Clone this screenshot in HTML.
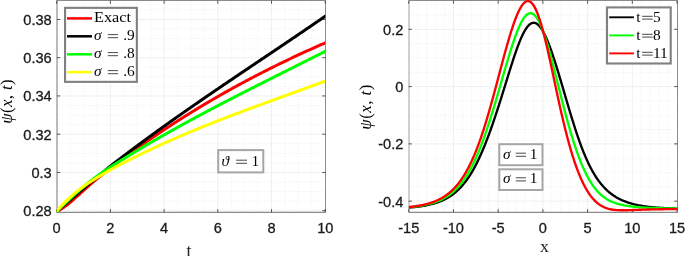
<!DOCTYPE html>
<html><head><meta charset="utf-8"><style>
html,body{margin:0;padding:0;background:#fff;width:685px;height:256px;overflow:hidden}
svg{display:block;will-change:transform}
</style></head><body><svg width="685" height="256" viewBox="0 0 685 256"><defs><clipPath id="cl"><rect x="56.68" y="0" width="268.62" height="212.3"/></clipPath><clipPath id="cr"><rect x="408.7" y="0" width="268.9" height="212.3"/></clipPath></defs><path d="M70.11 0V212.3M83.54 0V212.3M96.97 0V212.3M123.82 0V212.3M137.25 0V212.3M150.68 0V212.3M177.54 0V212.3M190.97 0V212.3M204.39 0V212.3M231.25 0V212.3M244.68 0V212.3M258.11 0V212.3M284.96 0V212.3M298.39 0V212.3M311.82 0V212.3M56.68 201.13H325.3M56.68 191.56H325.3M56.68 182H325.3M56.68 162.88H325.3M56.68 153.31H325.3M56.68 143.75H325.3M56.68 124.63H325.3M56.68 115.06H325.3M56.68 105.5H325.3M56.68 86.38H325.3M56.68 76.81H325.3M56.68 67.25H325.3M56.68 48.13H325.3M56.68 38.56H325.3M56.68 29H325.3M56.68 9.88H325.3" stroke="#ececec" stroke-width="1" fill="none" stroke-dasharray="0.9 1.7"/><path d="M110.39 0V212.3M164.11 0V212.3M217.82 0V212.3M271.54 0V212.3M56.68 210.69H325.3M56.68 172.44H325.3M56.68 134.19H325.3M56.68 95.94H325.3M56.68 57.69H325.3M56.68 19.44H325.3" stroke="#f0f0f0" stroke-width="1" fill="none"/><path d="M57 0.5H325.5" stroke="#8a8a8a" stroke-width="1"/><path d="M57 212.4H325.5" stroke="#8c8c8c" stroke-width="1.1"/><path d="M57 0.5V212.4" stroke="#777777" stroke-width="1"/><path d="M325.5 0.5V212.4" stroke="#8a8a8a" stroke-width="1"/><path d="M56.68 212.4V209.1M56.68 0.5V3.8M110.39 212.4V209.1M110.39 0.5V3.8M164.11 212.4V209.1M164.11 0.5V3.8M217.82 212.4V209.1M217.82 0.5V3.8M271.54 212.4V209.1M271.54 0.5V3.8M325.25 212.4V209.1M325.25 0.5V3.8M57 210.69H60.3M325.5 210.69H322.2M57 172.44H60.3M325.5 172.44H322.2M57 134.19H60.3M325.5 134.19H322.2M57 95.94H60.3M325.5 95.94H322.2M57 57.69H60.3M325.5 57.69H322.2M57 19.44H60.3M325.5 19.44H322.2" stroke="#3a3a3a" stroke-width="0.85" fill="none"/><g clip-path="url(#cl)" fill="none" stroke-width="3.0" stroke-linejoin="round" stroke-linecap="round"><path d="M56.68 211.32 L57.22 211.08 L57.76 210.83 L58.29 210.57 L58.83 210.3 L59.37 210.02 L59.91 209.72 L60.45 209.42 L60.99 209.1 L61.52 208.78 L62.06 208.45 L62.6 208.1 L63.14 207.75 L63.68 207.39 L64.22 207.03 L64.75 206.65 L65.29 206.27 L65.83 205.88 L66.37 205.49 L66.91 205.09 L67.44 204.68 L67.98 204.24 L68.52 203.8 L69.06 203.36 L69.6 202.9 L70.14 202.45 L70.67 201.99 L71.21 201.53 L71.75 201.06 L72.29 200.59 L72.83 200.12 L73.36 199.65 L73.9 199.17 L74.44 198.69 L74.98 198.21 L75.52 197.72 L76.06 197.24 L76.59 196.75 L77.13 196.26 L77.67 195.77 L78.21 195.28 L78.75 194.79 L79.29 194.3 L79.82 193.81 L80.36 193.32 L80.9 192.82 L81.44 192.33 L81.98 191.84 L82.51 191.35 L83.05 190.86 L83.59 190.37 L84.13 189.88 L84.67 189.4 L85.21 188.91 L85.74 188.43 L86.28 187.95 L86.82 187.47 L87.36 187 L87.9 186.52 L88.43 186.05 L88.97 185.58 L89.51 185.11 L90.05 184.63 L90.59 184.16 L91.13 183.7 L91.66 183.24 L92.2 182.78 L92.74 182.32 L93.28 181.87 L93.82 181.42 L94.36 180.97 L94.89 180.53 L95.43 180.09 L95.97 179.65 L96.51 179.21 L97.05 178.77 L97.58 178.33 L98.12 177.89 L98.66 177.45 L99.2 177.01 L99.74 176.58 L100.28 176.14 L100.81 175.71 L101.35 175.27 L101.89 174.84 L102.43 174.4 L102.97 173.97 L103.5 173.54 L104.04 173.11 L104.58 172.68 L105.12 172.25 L105.66 171.82 L106.2 171.39 L106.73 170.96 L107.27 170.53 L107.81 170.1 L108.35 169.68 L108.89 169.25 L109.43 168.82 L109.96 168.4 L110.5 167.98 L111.04 167.57 L111.58 167.15 L112.12 166.74 L112.65 166.33 L113.19 165.93 L113.73 165.52 L114.27 165.11 L114.81 164.7 L115.35 164.29 L115.88 163.89 L116.42 163.48 L116.96 163.08 L117.5 162.67 L118.04 162.27 L118.57 161.87 L119.11 161.46 L119.65 161.06 L120.19 160.66 L120.73 160.26 L121.27 159.86 L121.8 159.46 L122.34 159.06 L122.88 158.66 L123.42 158.26 L123.96 157.86 L124.5 157.47 L125.03 157.07 L125.57 156.67 L126.11 156.28 L126.65 155.88 L127.19 155.49 L127.72 155.1 L128.26 154.7 L128.8 154.31 L129.34 153.92 L129.88 153.53 L130.42 153.14 L130.95 152.75 L131.49 152.36 L132.03 151.97 L132.57 151.58 L133.11 151.19 L133.64 150.8 L134.18 150.42 L134.72 150.03 L135.26 149.64 L135.8 149.26 L136.34 148.87 L136.87 148.49 L137.41 148.11 L137.95 147.72 L138.49 147.34 L139.03 146.96 L139.57 146.58 L140.1 146.2 L140.64 145.82 L141.18 145.44 L141.72 145.06 L142.26 144.68 L142.79 144.3 L143.33 143.92 L143.87 143.55 L144.41 143.17 L144.95 142.79 L145.49 142.42 L146.02 142.04 L146.56 141.67 L147.1 141.3 L147.64 140.92 L148.18 140.55 L148.72 140.18 L149.25 139.81 L149.79 139.43 L150.33 139.06 L150.87 138.69 L151.41 138.32 L151.94 137.95 L152.48 137.59 L153.02 137.22 L153.56 136.85 L154.1 136.48 L154.64 136.12 L155.17 135.75 L155.71 135.39 L156.25 135.02 L156.79 134.66 L157.33 134.29 L157.86 133.93 L158.4 133.57 L158.94 133.21 L159.48 132.84 L160.02 132.48 L160.56 132.12 L161.09 131.76 L161.63 131.4 L162.17 131.04 L162.71 130.69 L163.25 130.33 L163.79 129.97 L164.32 129.61 L164.86 129.26 L165.4 128.9 L165.94 128.55 L166.48 128.19 L167.01 127.84 L167.55 127.48 L168.09 127.13 L168.63 126.78 L169.17 126.42 L169.71 126.07 L170.24 125.72 L170.78 125.37 L171.32 125.02 L171.86 124.67 L172.4 124.32 L172.93 123.97 L173.47 123.62 L174.01 123.27 L174.55 122.93 L175.09 122.58 L175.63 122.23 L176.16 121.89 L176.7 121.54 L177.24 121.2 L177.78 120.85 L178.32 120.51 L178.86 120.17 L179.39 119.82 L179.93 119.48 L180.47 119.14 L181.01 118.8 L181.55 118.46 L182.08 118.12 L182.62 117.78 L183.16 117.44 L183.7 117.1 L184.24 116.76 L184.78 116.42 L185.31 116.09 L185.85 115.75 L186.39 115.41 L186.93 115.08 L187.47 114.74 L188 114.41 L188.54 114.07 L189.08 113.74 L189.62 113.4 L190.16 113.07 L190.7 112.74 L191.23 112.41 L191.77 112.08 L192.31 111.74 L192.85 111.41 L193.39 111.08 L193.93 110.75 L194.46 110.42 L195 110.1 L195.54 109.77 L196.08 109.44 L196.62 109.11 L197.15 108.79 L197.69 108.46 L198.23 108.13 L198.77 107.81 L199.31 107.48 L199.85 107.16 L200.38 106.83 L200.92 106.51 L201.46 106.19 L202 105.87 L202.54 105.54 L203.07 105.22 L203.61 104.9 L204.15 104.58 L204.69 104.26 L205.23 103.94 L205.77 103.62 L206.3 103.3 L206.84 102.98 L207.38 102.66 L207.92 102.35 L208.46 102.03 L209 101.71 L209.53 101.4 L210.07 101.08 L210.61 100.77 L211.15 100.45 L211.69 100.14 L212.22 99.82 L212.76 99.51 L213.3 99.2 L213.84 98.88 L214.38 98.57 L214.92 98.26 L215.45 97.95 L215.99 97.64 L216.53 97.33 L217.07 97.02 L217.61 96.71 L218.14 96.4 L218.68 96.09 L219.22 95.78 L219.76 95.48 L220.3 95.17 L220.84 94.86 L221.37 94.56 L221.91 94.25 L222.45 93.94 L222.99 93.64 L223.53 93.34 L224.07 93.03 L224.6 92.73 L225.14 92.42 L225.68 92.12 L226.22 91.82 L226.76 91.52 L227.29 91.22 L227.83 90.91 L228.37 90.61 L228.91 90.31 L229.45 90.01 L229.99 89.72 L230.52 89.42 L231.06 89.12 L231.6 88.82 L232.14 88.52 L232.68 88.22 L233.21 87.93 L233.75 87.63 L234.29 87.34 L234.83 87.04 L235.37 86.75 L235.91 86.45 L236.44 86.16 L236.98 85.86 L237.52 85.57 L238.06 85.28 L238.6 84.98 L239.14 84.69 L239.67 84.4 L240.21 84.11 L240.75 83.82 L241.29 83.53 L241.83 83.24 L242.36 82.95 L242.9 82.66 L243.44 82.37 L243.98 82.08 L244.52 81.79 L245.06 81.51 L245.59 81.22 L246.13 80.93 L246.67 80.65 L247.21 80.36 L247.75 80.07 L248.29 79.79 L248.82 79.5 L249.36 79.22 L249.9 78.94 L250.44 78.65 L250.98 78.37 L251.51 78.09 L252.05 77.8 L252.59 77.52 L253.13 77.24 L253.67 76.96 L254.21 76.68 L254.74 76.4 L255.28 76.12 L255.82 75.84 L256.36 75.56 L256.9 75.28 L257.43 75 L257.97 74.73 L258.51 74.45 L259.05 74.17 L259.59 73.89 L260.13 73.62 L260.66 73.34 L261.2 73.07 L261.74 72.79 L262.28 72.52 L262.82 72.24 L263.36 71.97 L263.89 71.69 L264.43 71.42 L264.97 71.15 L265.51 70.87 L266.05 70.6 L266.58 70.33 L267.12 70.06 L267.66 69.79 L268.2 69.52 L268.74 69.25 L269.28 68.98 L269.81 68.71 L270.35 68.44 L270.89 68.17 L271.43 67.9 L271.97 67.63 L272.5 67.37 L273.04 67.1 L273.58 66.83 L274.12 66.57 L274.66 66.3 L275.2 66.03 L275.73 65.77 L276.27 65.5 L276.81 65.24 L277.35 64.98 L277.89 64.71 L278.43 64.45 L278.96 64.18 L279.5 63.92 L280.04 63.66 L280.58 63.4 L281.12 63.14 L281.65 62.87 L282.19 62.61 L282.73 62.35 L283.27 62.09 L283.81 61.83 L284.35 61.57 L284.88 61.31 L285.42 61.05 L285.96 60.8 L286.5 60.54 L287.04 60.28 L287.57 60.02 L288.11 59.77 L288.65 59.51 L289.19 59.25 L289.73 59 L290.27 58.74 L290.8 58.49 L291.34 58.23 L291.88 57.98 L292.42 57.72 L292.96 57.47 L293.5 57.21 L294.03 56.96 L294.57 56.71 L295.11 56.46 L295.65 56.2 L296.19 55.95 L296.72 55.7 L297.26 55.45 L297.8 55.2 L298.34 54.95 L298.88 54.7 L299.42 54.45 L299.95 54.2 L300.49 53.95 L301.03 53.7 L301.57 53.45 L302.11 53.2 L302.64 52.96 L303.18 52.71 L303.72 52.46 L304.26 52.22 L304.8 51.97 L305.34 51.72 L305.87 51.48 L306.41 51.23 L306.95 50.99 L307.49 50.74 L308.03 50.5 L308.57 50.25 L309.1 50.01 L309.64 49.77 L310.18 49.52 L310.72 49.28 L311.26 49.04 L311.79 48.8 L312.33 48.55 L312.87 48.31 L313.41 48.07 L313.95 47.83 L314.49 47.59 L315.02 47.35 L315.56 47.11 L316.1 46.87 L316.64 46.63 L317.18 46.39 L317.71 46.15 L318.25 45.91 L318.79 45.68 L319.33 45.44 L319.87 45.2 L320.41 44.96 L320.94 44.73 L321.48 44.49 L322.02 44.25 L322.56 44.02 L323.1 43.78 L323.64 43.55 L324.17 43.31 L324.71 43.08 L325.25 42.84" stroke="#ff0000"/><path d="M56.68 211.33 L57.22 210.87 L57.76 210.4 L58.29 209.94 L58.83 209.48 L59.37 209.01 L59.91 208.55 L60.45 208.09 L60.99 207.63 L61.52 207.17 L62.06 206.72 L62.6 206.26 L63.14 205.8 L63.68 205.35 L64.22 204.89 L64.75 204.44 L65.29 203.99 L65.83 203.53 L66.37 203.08 L66.91 202.63 L67.44 202.18 L67.98 201.71 L68.52 201.24 L69.06 200.76 L69.6 200.29 L70.14 199.82 L70.67 199.35 L71.21 198.88 L71.75 198.41 L72.29 197.95 L72.83 197.48 L73.36 197.01 L73.9 196.55 L74.44 196.08 L74.98 195.62 L75.52 195.16 L76.06 194.69 L76.59 194.23 L77.13 193.77 L77.67 193.31 L78.21 192.85 L78.75 192.39 L79.29 191.94 L79.82 191.48 L80.36 191.02 L80.9 190.57 L81.44 190.11 L81.98 189.66 L82.51 189.21 L83.05 188.75 L83.59 188.3 L84.13 187.85 L84.67 187.4 L85.21 186.95 L85.74 186.5 L86.28 186.05 L86.82 185.61 L87.36 185.16 L87.9 184.71 L88.43 184.27 L88.97 183.82 L89.51 183.37 L90.05 182.91 L90.59 182.45 L91.13 182 L91.66 181.55 L92.2 181.09 L92.74 180.64 L93.28 180.19 L93.82 179.74 L94.36 179.29 L94.89 178.84 L95.43 178.39 L95.97 177.94 L96.51 177.49 L97.05 177.04 L97.58 176.6 L98.12 176.15 L98.66 175.71 L99.2 175.26 L99.74 174.82 L100.28 174.37 L100.81 173.93 L101.35 173.49 L101.89 173.05 L102.43 172.61 L102.97 172.16 L103.5 171.72 L104.04 171.28 L104.58 170.85 L105.12 170.41 L105.66 169.97 L106.2 169.53 L106.73 169.1 L107.27 168.66 L107.81 168.22 L108.35 167.79 L108.89 167.35 L109.43 166.92 L109.96 166.49 L110.5 166.06 L111.04 165.64 L111.58 165.22 L112.12 164.8 L112.65 164.38 L113.19 163.96 L113.73 163.55 L114.27 163.13 L114.81 162.71 L115.35 162.3 L115.88 161.88 L116.42 161.47 L116.96 161.05 L117.5 160.64 L118.04 160.23 L118.57 159.81 L119.11 159.4 L119.65 158.99 L120.19 158.58 L120.73 158.17 L121.27 157.75 L121.8 157.34 L122.34 156.93 L122.88 156.53 L123.42 156.12 L123.96 155.71 L124.5 155.3 L125.03 154.89 L125.57 154.49 L126.11 154.08 L126.65 153.67 L127.19 153.27 L127.72 152.86 L128.26 152.46 L128.8 152.05 L129.34 151.65 L129.88 151.24 L130.42 150.84 L130.95 150.44 L131.49 150.03 L132.03 149.63 L132.57 149.23 L133.11 148.83 L133.64 148.42 L134.18 148.02 L134.72 147.62 L135.26 147.22 L135.8 146.82 L136.34 146.42 L136.87 146.02 L137.41 145.62 L137.95 145.23 L138.49 144.83 L139.03 144.43 L139.57 144.03 L140.1 143.63 L140.64 143.24 L141.18 142.84 L141.72 142.44 L142.26 142.05 L142.79 141.65 L143.33 141.26 L143.87 140.86 L144.41 140.47 L144.95 140.07 L145.49 139.68 L146.02 139.28 L146.56 138.89 L147.1 138.49 L147.64 138.1 L148.18 137.71 L148.72 137.32 L149.25 136.92 L149.79 136.53 L150.33 136.14 L150.87 135.75 L151.41 135.36 L151.94 134.97 L152.48 134.58 L153.02 134.19 L153.56 133.8 L154.1 133.41 L154.64 133.02 L155.17 132.63 L155.71 132.24 L156.25 131.85 L156.79 131.46 L157.33 131.07 L157.86 130.69 L158.4 130.3 L158.94 129.91 L159.48 129.52 L160.02 129.14 L160.56 128.75 L161.09 128.36 L161.63 127.98 L162.17 127.59 L162.71 127.21 L163.25 126.82 L163.79 126.44 L164.32 126.05 L164.86 125.67 L165.4 125.28 L165.94 124.9 L166.48 124.52 L167.01 124.13 L167.55 123.75 L168.09 123.37 L168.63 122.99 L169.17 122.6 L169.71 122.22 L170.24 121.84 L170.78 121.46 L171.32 121.08 L171.86 120.69 L172.4 120.31 L172.93 119.93 L173.47 119.55 L174.01 119.17 L174.55 118.79 L175.09 118.41 L175.63 118.03 L176.16 117.65 L176.7 117.27 L177.24 116.89 L177.78 116.52 L178.32 116.14 L178.86 115.76 L179.39 115.38 L179.93 115 L180.47 114.63 L181.01 114.25 L181.55 113.87 L182.08 113.49 L182.62 113.12 L183.16 112.74 L183.7 112.36 L184.24 111.99 L184.78 111.61 L185.31 111.24 L185.85 110.86 L186.39 110.49 L186.93 110.11 L187.47 109.73 L188 109.36 L188.54 108.99 L189.08 108.61 L189.62 108.24 L190.16 107.86 L190.7 107.49 L191.23 107.12 L191.77 106.74 L192.31 106.37 L192.85 106 L193.39 105.62 L193.93 105.25 L194.46 104.88 L195 104.5 L195.54 104.13 L196.08 103.76 L196.62 103.39 L197.15 103.02 L197.69 102.65 L198.23 102.27 L198.77 101.9 L199.31 101.53 L199.85 101.16 L200.38 100.79 L200.92 100.42 L201.46 100.05 L202 99.68 L202.54 99.31 L203.07 98.94 L203.61 98.57 L204.15 98.2 L204.69 97.83 L205.23 97.46 L205.77 97.09 L206.3 96.72 L206.84 96.35 L207.38 95.98 L207.92 95.62 L208.46 95.25 L209 94.88 L209.53 94.51 L210.07 94.14 L210.61 93.77 L211.15 93.41 L211.69 93.04 L212.22 92.67 L212.76 92.3 L213.3 91.94 L213.84 91.57 L214.38 91.2 L214.92 90.84 L215.45 90.47 L215.99 90.1 L216.53 89.74 L217.07 89.37 L217.61 89 L218.14 88.64 L218.68 88.27 L219.22 87.9 L219.76 87.54 L220.3 87.17 L220.84 86.81 L221.37 86.44 L221.91 86.08 L222.45 85.71 L222.99 85.35 L223.53 84.98 L224.07 84.62 L224.6 84.25 L225.14 83.89 L225.68 83.52 L226.22 83.16 L226.76 82.79 L227.29 82.43 L227.83 82.06 L228.37 81.7 L228.91 81.33 L229.45 80.97 L229.99 80.61 L230.52 80.24 L231.06 79.88 L231.6 79.51 L232.14 79.15 L232.68 78.79 L233.21 78.42 L233.75 78.06 L234.29 77.7 L234.83 77.33 L235.37 76.97 L235.91 76.61 L236.44 76.24 L236.98 75.88 L237.52 75.52 L238.06 75.15 L238.6 74.79 L239.14 74.43 L239.67 74.07 L240.21 73.7 L240.75 73.34 L241.29 72.98 L241.83 72.62 L242.36 72.25 L242.9 71.89 L243.44 71.53 L243.98 71.17 L244.52 70.8 L245.06 70.44 L245.59 70.08 L246.13 69.72 L246.67 69.36 L247.21 68.99 L247.75 68.63 L248.29 68.27 L248.82 67.91 L249.36 67.55 L249.9 67.18 L250.44 66.82 L250.98 66.46 L251.51 66.1 L252.05 65.74 L252.59 65.37 L253.13 65.01 L253.67 64.65 L254.21 64.29 L254.74 63.93 L255.28 63.57 L255.82 63.21 L256.36 62.84 L256.9 62.48 L257.43 62.12 L257.97 61.76 L258.51 61.4 L259.05 61.04 L259.59 60.67 L260.13 60.31 L260.66 59.95 L261.2 59.59 L261.74 59.23 L262.28 58.87 L262.82 58.51 L263.36 58.14 L263.89 57.78 L264.43 57.42 L264.97 57.06 L265.51 56.7 L266.05 56.34 L266.58 55.97 L267.12 55.61 L267.66 55.25 L268.2 54.89 L268.74 54.53 L269.28 54.17 L269.81 53.8 L270.35 53.44 L270.89 53.08 L271.43 52.72 L271.97 52.36 L272.5 52 L273.04 51.63 L273.58 51.27 L274.12 50.91 L274.66 50.55 L275.2 50.19 L275.73 49.83 L276.27 49.46 L276.81 49.1 L277.35 48.74 L277.89 48.38 L278.43 48.02 L278.96 47.65 L279.5 47.29 L280.04 46.93 L280.58 46.57 L281.12 46.2 L281.65 45.84 L282.19 45.48 L282.73 45.12 L283.27 44.75 L283.81 44.39 L284.35 44.03 L284.88 43.67 L285.42 43.3 L285.96 42.94 L286.5 42.58 L287.04 42.21 L287.57 41.85 L288.11 41.49 L288.65 41.13 L289.19 40.76 L289.73 40.4 L290.27 40.04 L290.8 39.67 L291.34 39.31 L291.88 38.94 L292.42 38.58 L292.96 38.22 L293.5 37.85 L294.03 37.49 L294.57 37.13 L295.11 36.76 L295.65 36.4 L296.19 36.03 L296.72 35.67 L297.26 35.3 L297.8 34.94 L298.34 34.58 L298.88 34.21 L299.42 33.85 L299.95 33.48 L300.49 33.12 L301.03 32.75 L301.57 32.39 L302.11 32.02 L302.64 31.65 L303.18 31.29 L303.72 30.92 L304.26 30.56 L304.8 30.19 L305.34 29.83 L305.87 29.46 L306.41 29.09 L306.95 28.73 L307.49 28.36 L308.03 27.99 L308.57 27.63 L309.1 27.26 L309.64 26.89 L310.18 26.53 L310.72 26.16 L311.26 25.79 L311.79 25.43 L312.33 25.06 L312.87 24.69 L313.41 24.32 L313.95 23.96 L314.49 23.59 L315.02 23.22 L315.56 22.85 L316.1 22.48 L316.64 22.11 L317.18 21.74 L317.71 21.38 L318.25 21.01 L318.79 20.64 L319.33 20.27 L319.87 19.9 L320.41 19.53 L320.94 19.16 L321.48 18.79 L322.02 18.42 L322.56 18.05 L323.1 17.68 L323.64 17.31 L324.17 16.94 L324.71 16.57 L325.25 16.2" stroke="#000000"/><path d="M56.68 211.32 L57.22 210.8 L57.76 210.29 L58.29 209.78 L58.83 209.27 L59.37 208.77 L59.91 208.26 L60.45 207.75 L60.99 207.25 L61.52 206.74 L62.06 206.24 L62.6 205.73 L63.14 205.23 L63.68 204.73 L64.22 204.24 L64.75 203.74 L65.29 203.24 L65.83 202.75 L66.37 202.25 L66.91 201.76 L67.44 201.27 L67.98 200.76 L68.52 200.24 L69.06 199.73 L69.6 199.22 L70.14 198.72 L70.67 198.21 L71.21 197.71 L71.75 197.21 L72.29 196.71 L72.83 196.21 L73.36 195.71 L73.9 195.22 L74.44 194.72 L74.98 194.23 L75.52 193.75 L76.06 193.26 L76.59 192.78 L77.13 192.3 L77.67 191.82 L78.21 191.34 L78.75 190.86 L79.29 190.39 L79.82 189.92 L80.36 189.45 L80.9 188.99 L81.44 188.53 L81.98 188.07 L82.51 187.61 L83.05 187.16 L83.59 186.7 L84.13 186.25 L84.67 185.81 L85.21 185.36 L85.74 184.92 L86.28 184.49 L86.82 184.05 L87.36 183.62 L87.9 183.19 L88.43 182.77 L88.97 182.34 L89.51 181.91 L90.05 181.48 L90.59 181.05 L91.13 180.63 L91.66 180.21 L92.2 179.8 L92.74 179.38 L93.28 178.97 L93.82 178.57 L94.36 178.16 L94.89 177.76 L95.43 177.36 L95.97 176.97 L96.51 176.58 L97.05 176.18 L97.58 175.8 L98.12 175.41 L98.66 175.03 L99.2 174.65 L99.74 174.27 L100.28 173.89 L100.81 173.51 L101.35 173.14 L101.89 172.77 L102.43 172.4 L102.97 172.03 L103.5 171.66 L104.04 171.3 L104.58 170.93 L105.12 170.57 L105.66 170.21 L106.2 169.85 L106.73 169.49 L107.27 169.13 L107.81 168.77 L108.35 168.41 L108.89 168.06 L109.43 167.7 L109.96 167.35 L110.5 166.99 L111.04 166.65 L111.58 166.31 L112.12 165.97 L112.65 165.63 L113.19 165.29 L113.73 164.95 L114.27 164.61 L114.81 164.27 L115.35 163.94 L115.88 163.6 L116.42 163.26 L116.96 162.92 L117.5 162.59 L118.04 162.25 L118.57 161.92 L119.11 161.58 L119.65 161.25 L120.19 160.91 L120.73 160.58 L121.27 160.24 L121.8 159.91 L122.34 159.58 L122.88 159.25 L123.42 158.91 L123.96 158.58 L124.5 158.25 L125.03 157.92 L125.57 157.59 L126.11 157.26 L126.65 156.93 L127.19 156.6 L127.72 156.27 L128.26 155.94 L128.8 155.62 L129.34 155.29 L129.88 154.96 L130.42 154.63 L130.95 154.31 L131.49 153.98 L132.03 153.66 L132.57 153.33 L133.11 153.01 L133.64 152.68 L134.18 152.36 L134.72 152.03 L135.26 151.71 L135.8 151.39 L136.34 151.06 L136.87 150.74 L137.41 150.42 L137.95 150.1 L138.49 149.78 L139.03 149.46 L139.57 149.14 L140.1 148.82 L140.64 148.5 L141.18 148.18 L141.72 147.86 L142.26 147.54 L142.79 147.22 L143.33 146.9 L143.87 146.59 L144.41 146.27 L144.95 145.95 L145.49 145.63 L146.02 145.32 L146.56 145 L147.1 144.69 L147.64 144.37 L148.18 144.06 L148.72 143.74 L149.25 143.43 L149.79 143.11 L150.33 142.8 L150.87 142.49 L151.41 142.18 L151.94 141.86 L152.48 141.55 L153.02 141.24 L153.56 140.93 L154.1 140.62 L154.64 140.31 L155.17 139.99 L155.71 139.68 L156.25 139.37 L156.79 139.07 L157.33 138.76 L157.86 138.45 L158.4 138.14 L158.94 137.83 L159.48 137.52 L160.02 137.21 L160.56 136.91 L161.09 136.6 L161.63 136.29 L162.17 135.99 L162.71 135.68 L163.25 135.38 L163.79 135.07 L164.32 134.77 L164.86 134.46 L165.4 134.16 L165.94 133.85 L166.48 133.55 L167.01 133.24 L167.55 132.94 L168.09 132.64 L168.63 132.33 L169.17 132.03 L169.71 131.73 L170.24 131.43 L170.78 131.13 L171.32 130.83 L171.86 130.52 L172.4 130.22 L172.93 129.92 L173.47 129.62 L174.01 129.32 L174.55 129.02 L175.09 128.72 L175.63 128.43 L176.16 128.13 L176.7 127.83 L177.24 127.53 L177.78 127.23 L178.32 126.93 L178.86 126.64 L179.39 126.34 L179.93 126.04 L180.47 125.75 L181.01 125.45 L181.55 125.15 L182.08 124.86 L182.62 124.56 L183.16 124.27 L183.7 123.97 L184.24 123.68 L184.78 123.38 L185.31 123.09 L185.85 122.79 L186.39 122.5 L186.93 122.21 L187.47 121.91 L188 121.62 L188.54 121.33 L189.08 121.04 L189.62 120.74 L190.16 120.45 L190.7 120.16 L191.23 119.87 L191.77 119.58 L192.31 119.28 L192.85 118.99 L193.39 118.7 L193.93 118.41 L194.46 118.12 L195 117.83 L195.54 117.54 L196.08 117.25 L196.62 116.96 L197.15 116.68 L197.69 116.39 L198.23 116.1 L198.77 115.81 L199.31 115.52 L199.85 115.23 L200.38 114.95 L200.92 114.66 L201.46 114.37 L202 114.08 L202.54 113.8 L203.07 113.51 L203.61 113.22 L204.15 112.94 L204.69 112.65 L205.23 112.37 L205.77 112.08 L206.3 111.79 L206.84 111.51 L207.38 111.22 L207.92 110.94 L208.46 110.66 L209 110.37 L209.53 110.09 L210.07 109.8 L210.61 109.52 L211.15 109.23 L211.69 108.95 L212.22 108.67 L212.76 108.38 L213.3 108.1 L213.84 107.82 L214.38 107.54 L214.92 107.25 L215.45 106.97 L215.99 106.69 L216.53 106.41 L217.07 106.13 L217.61 105.85 L218.14 105.56 L218.68 105.28 L219.22 105 L219.76 104.72 L220.3 104.44 L220.84 104.16 L221.37 103.88 L221.91 103.6 L222.45 103.32 L222.99 103.04 L223.53 102.76 L224.07 102.48 L224.6 102.2 L225.14 101.92 L225.68 101.64 L226.22 101.36 L226.76 101.09 L227.29 100.81 L227.83 100.53 L228.37 100.25 L228.91 99.97 L229.45 99.69 L229.99 99.42 L230.52 99.14 L231.06 98.86 L231.6 98.58 L232.14 98.31 L232.68 98.03 L233.21 97.75 L233.75 97.48 L234.29 97.2 L234.83 96.92 L235.37 96.65 L235.91 96.37 L236.44 96.09 L236.98 95.82 L237.52 95.54 L238.06 95.27 L238.6 94.99 L239.14 94.72 L239.67 94.44 L240.21 94.17 L240.75 93.89 L241.29 93.62 L241.83 93.34 L242.36 93.07 L242.9 92.79 L243.44 92.52 L243.98 92.24 L244.52 91.97 L245.06 91.69 L245.59 91.42 L246.13 91.14 L246.67 90.87 L247.21 90.6 L247.75 90.32 L248.29 90.05 L248.82 89.78 L249.36 89.5 L249.9 89.23 L250.44 88.96 L250.98 88.68 L251.51 88.41 L252.05 88.14 L252.59 87.86 L253.13 87.59 L253.67 87.32 L254.21 87.05 L254.74 86.77 L255.28 86.5 L255.82 86.23 L256.36 85.96 L256.9 85.69 L257.43 85.41 L257.97 85.14 L258.51 84.87 L259.05 84.6 L259.59 84.33 L260.13 84.05 L260.66 83.78 L261.2 83.51 L261.74 83.24 L262.28 82.97 L262.82 82.7 L263.36 82.43 L263.89 82.15 L264.43 81.88 L264.97 81.61 L265.51 81.34 L266.05 81.07 L266.58 80.8 L267.12 80.53 L267.66 80.26 L268.2 79.99 L268.74 79.72 L269.28 79.44 L269.81 79.17 L270.35 78.9 L270.89 78.63 L271.43 78.36 L271.97 78.09 L272.5 77.82 L273.04 77.55 L273.58 77.28 L274.12 77.01 L274.66 76.74 L275.2 76.47 L275.73 76.2 L276.27 75.93 L276.81 75.66 L277.35 75.39 L277.89 75.12 L278.43 74.85 L278.96 74.58 L279.5 74.31 L280.04 74.04 L280.58 73.77 L281.12 73.5 L281.65 73.23 L282.19 72.96 L282.73 72.69 L283.27 72.42 L283.81 72.15 L284.35 71.88 L284.88 71.61 L285.42 71.34 L285.96 71.07 L286.5 70.8 L287.04 70.53 L287.57 70.26 L288.11 69.99 L288.65 69.72 L289.19 69.45 L289.73 69.18 L290.27 68.92 L290.8 68.65 L291.34 68.38 L291.88 68.11 L292.42 67.84 L292.96 67.57 L293.5 67.3 L294.03 67.03 L294.57 66.76 L295.11 66.49 L295.65 66.22 L296.19 65.95 L296.72 65.68 L297.26 65.41 L297.8 65.14 L298.34 64.87 L298.88 64.6 L299.42 64.33 L299.95 64.06 L300.49 63.79 L301.03 63.52 L301.57 63.25 L302.11 62.98 L302.64 62.71 L303.18 62.44 L303.72 62.17 L304.26 61.9 L304.8 61.63 L305.34 61.36 L305.87 61.09 L306.41 60.82 L306.95 60.55 L307.49 60.28 L308.03 60.01 L308.57 59.74 L309.1 59.47 L309.64 59.2 L310.18 58.93 L310.72 58.65 L311.26 58.38 L311.79 58.11 L312.33 57.84 L312.87 57.57 L313.41 57.3 L313.95 57.03 L314.49 56.76 L315.02 56.49 L315.56 56.22 L316.1 55.95 L316.64 55.67 L317.18 55.4 L317.71 55.13 L318.25 54.86 L318.79 54.59 L319.33 54.32 L319.87 54.05 L320.41 53.77 L320.94 53.5 L321.48 53.23 L322.02 52.96 L322.56 52.69 L323.1 52.41 L323.64 52.14 L324.17 51.87 L324.71 51.6 L325.25 51.32" stroke="#00ff00"/><path d="M56.68 211.23 L57.22 210.59 L57.76 209.96 L58.29 209.34 L58.83 208.73 L59.37 208.12 L59.91 207.52 L60.45 206.93 L60.99 206.34 L61.52 205.77 L62.06 205.2 L62.6 204.63 L63.14 204.08 L63.68 203.53 L64.22 202.98 L64.75 202.44 L65.29 201.91 L65.83 201.39 L66.37 200.87 L66.91 200.36 L67.44 199.85 L67.98 199.33 L68.52 198.81 L69.06 198.3 L69.6 197.79 L70.14 197.29 L70.67 196.8 L71.21 196.31 L71.75 195.82 L72.29 195.35 L72.83 194.87 L73.36 194.4 L73.9 193.94 L74.44 193.48 L74.98 193.03 L75.52 192.58 L76.06 192.14 L76.59 191.7 L77.13 191.27 L77.67 190.84 L78.21 190.42 L78.75 190 L79.29 189.58 L79.82 189.17 L80.36 188.77 L80.9 188.36 L81.44 187.97 L81.98 187.57 L82.51 187.18 L83.05 186.79 L83.59 186.41 L84.13 186.03 L84.67 185.66 L85.21 185.28 L85.74 184.92 L86.28 184.55 L86.82 184.19 L87.36 183.83 L87.9 183.47 L88.43 183.12 L88.97 182.77 L89.51 182.41 L90.05 182.05 L90.59 181.7 L91.13 181.35 L91.66 181 L92.2 180.65 L92.74 180.31 L93.28 179.97 L93.82 179.63 L94.36 179.29 L94.89 178.96 L95.43 178.62 L95.97 178.29 L96.51 177.96 L97.05 177.63 L97.58 177.31 L98.12 176.98 L98.66 176.66 L99.2 176.34 L99.74 176.02 L100.28 175.7 L100.81 175.38 L101.35 175.06 L101.89 174.75 L102.43 174.43 L102.97 174.12 L103.5 173.81 L104.04 173.49 L104.58 173.18 L105.12 172.87 L105.66 172.56 L106.2 172.25 L106.73 171.94 L107.27 171.63 L107.81 171.32 L108.35 171.01 L108.89 170.71 L109.43 170.4 L109.96 170.09 L110.5 169.79 L111.04 169.5 L111.58 169.21 L112.12 168.91 L112.65 168.62 L113.19 168.33 L113.73 168.04 L114.27 167.75 L114.81 167.47 L115.35 167.18 L115.88 166.89 L116.42 166.61 L116.96 166.32 L117.5 166.03 L118.04 165.75 L118.57 165.46 L119.11 165.18 L119.65 164.9 L120.19 164.61 L120.73 164.33 L121.27 164.05 L121.8 163.77 L122.34 163.49 L122.88 163.21 L123.42 162.93 L123.96 162.65 L124.5 162.37 L125.03 162.1 L125.57 161.82 L126.11 161.54 L126.65 161.27 L127.19 160.99 L127.72 160.72 L128.26 160.44 L128.8 160.17 L129.34 159.89 L129.88 159.62 L130.42 159.35 L130.95 159.08 L131.49 158.81 L132.03 158.53 L132.57 158.26 L133.11 157.99 L133.64 157.73 L134.18 157.46 L134.72 157.19 L135.26 156.92 L135.8 156.65 L136.34 156.39 L136.87 156.12 L137.41 155.85 L137.95 155.59 L138.49 155.32 L139.03 155.06 L139.57 154.8 L140.1 154.53 L140.64 154.27 L141.18 154.01 L141.72 153.75 L142.26 153.49 L142.79 153.23 L143.33 152.96 L143.87 152.71 L144.41 152.45 L144.95 152.19 L145.49 151.93 L146.02 151.67 L146.56 151.41 L147.1 151.16 L147.64 150.9 L148.18 150.64 L148.72 150.39 L149.25 150.13 L149.79 149.88 L150.33 149.62 L150.87 149.37 L151.41 149.12 L151.94 148.87 L152.48 148.61 L153.02 148.36 L153.56 148.11 L154.1 147.86 L154.64 147.61 L155.17 147.36 L155.71 147.11 L156.25 146.86 L156.79 146.61 L157.33 146.36 L157.86 146.11 L158.4 145.87 L158.94 145.62 L159.48 145.37 L160.02 145.13 L160.56 144.88 L161.09 144.64 L161.63 144.39 L162.17 144.15 L162.71 143.9 L163.25 143.66 L163.79 143.42 L164.32 143.17 L164.86 142.93 L165.4 142.69 L165.94 142.45 L166.48 142.21 L167.01 141.96 L167.55 141.72 L168.09 141.48 L168.63 141.24 L169.17 141.01 L169.71 140.77 L170.24 140.53 L170.78 140.29 L171.32 140.05 L171.86 139.82 L172.4 139.58 L172.93 139.34 L173.47 139.11 L174.01 138.87 L174.55 138.64 L175.09 138.4 L175.63 138.17 L176.16 137.93 L176.7 137.7 L177.24 137.46 L177.78 137.23 L178.32 137 L178.86 136.77 L179.39 136.53 L179.93 136.3 L180.47 136.07 L181.01 135.84 L181.55 135.61 L182.08 135.38 L182.62 135.15 L183.16 134.92 L183.7 134.69 L184.24 134.46 L184.78 134.24 L185.31 134.01 L185.85 133.78 L186.39 133.55 L186.93 133.32 L187.47 133.1 L188 132.87 L188.54 132.65 L189.08 132.42 L189.62 132.19 L190.16 131.97 L190.7 131.74 L191.23 131.52 L191.77 131.3 L192.31 131.07 L192.85 130.85 L193.39 130.63 L193.93 130.4 L194.46 130.18 L195 129.96 L195.54 129.74 L196.08 129.52 L196.62 129.29 L197.15 129.07 L197.69 128.85 L198.23 128.63 L198.77 128.41 L199.31 128.19 L199.85 127.97 L200.38 127.75 L200.92 127.54 L201.46 127.32 L202 127.1 L202.54 126.88 L203.07 126.66 L203.61 126.45 L204.15 126.23 L204.69 126.01 L205.23 125.79 L205.77 125.58 L206.3 125.36 L206.84 125.15 L207.38 124.93 L207.92 124.72 L208.46 124.5 L209 124.29 L209.53 124.07 L210.07 123.86 L210.61 123.64 L211.15 123.43 L211.69 123.22 L212.22 123 L212.76 122.79 L213.3 122.58 L213.84 122.37 L214.38 122.15 L214.92 121.94 L215.45 121.73 L215.99 121.52 L216.53 121.31 L217.07 121.1 L217.61 120.89 L218.14 120.68 L218.68 120.47 L219.22 120.26 L219.76 120.05 L220.3 119.84 L220.84 119.63 L221.37 119.42 L221.91 119.21 L222.45 119 L222.99 118.79 L223.53 118.59 L224.07 118.38 L224.6 118.17 L225.14 117.96 L225.68 117.75 L226.22 117.55 L226.76 117.34 L227.29 117.13 L227.83 116.93 L228.37 116.72 L228.91 116.52 L229.45 116.31 L229.99 116.1 L230.52 115.9 L231.06 115.69 L231.6 115.49 L232.14 115.28 L232.68 115.08 L233.21 114.87 L233.75 114.67 L234.29 114.47 L234.83 114.26 L235.37 114.06 L235.91 113.85 L236.44 113.65 L236.98 113.45 L237.52 113.24 L238.06 113.04 L238.6 112.84 L239.14 112.64 L239.67 112.43 L240.21 112.23 L240.75 112.03 L241.29 111.83 L241.83 111.63 L242.36 111.42 L242.9 111.22 L243.44 111.02 L243.98 110.82 L244.52 110.62 L245.06 110.42 L245.59 110.22 L246.13 110.02 L246.67 109.82 L247.21 109.62 L247.75 109.42 L248.29 109.22 L248.82 109.02 L249.36 108.82 L249.9 108.62 L250.44 108.42 L250.98 108.22 L251.51 108.02 L252.05 107.82 L252.59 107.62 L253.13 107.42 L253.67 107.22 L254.21 107.02 L254.74 106.83 L255.28 106.63 L255.82 106.43 L256.36 106.23 L256.9 106.03 L257.43 105.83 L257.97 105.64 L258.51 105.44 L259.05 105.24 L259.59 105.04 L260.13 104.85 L260.66 104.65 L261.2 104.45 L261.74 104.25 L262.28 104.06 L262.82 103.86 L263.36 103.66 L263.89 103.47 L264.43 103.27 L264.97 103.07 L265.51 102.88 L266.05 102.68 L266.58 102.48 L267.12 102.29 L267.66 102.09 L268.2 101.89 L268.74 101.7 L269.28 101.5 L269.81 101.31 L270.35 101.11 L270.89 100.91 L271.43 100.72 L271.97 100.52 L272.5 100.33 L273.04 100.13 L273.58 99.94 L274.12 99.74 L274.66 99.55 L275.2 99.35 L275.73 99.15 L276.27 98.96 L276.81 98.76 L277.35 98.57 L277.89 98.37 L278.43 98.18 L278.96 97.98 L279.5 97.79 L280.04 97.59 L280.58 97.4 L281.12 97.2 L281.65 97.01 L282.19 96.81 L282.73 96.62 L283.27 96.42 L283.81 96.23 L284.35 96.03 L284.88 95.84 L285.42 95.64 L285.96 95.45 L286.5 95.25 L287.04 95.06 L287.57 94.86 L288.11 94.67 L288.65 94.47 L289.19 94.28 L289.73 94.08 L290.27 93.89 L290.8 93.69 L291.34 93.5 L291.88 93.3 L292.42 93.11 L292.96 92.91 L293.5 92.72 L294.03 92.52 L294.57 92.33 L295.11 92.13 L295.65 91.94 L296.19 91.74 L296.72 91.55 L297.26 91.35 L297.8 91.16 L298.34 90.96 L298.88 90.77 L299.42 90.57 L299.95 90.38 L300.49 90.18 L301.03 89.99 L301.57 89.79 L302.11 89.6 L302.64 89.4 L303.18 89.21 L303.72 89.01 L304.26 88.82 L304.8 88.62 L305.34 88.42 L305.87 88.23 L306.41 88.03 L306.95 87.84 L307.49 87.64 L308.03 87.45 L308.57 87.25 L309.1 87.05 L309.64 86.86 L310.18 86.66 L310.72 86.47 L311.26 86.27 L311.79 86.07 L312.33 85.88 L312.87 85.68 L313.41 85.48 L313.95 85.29 L314.49 85.09 L315.02 84.89 L315.56 84.7 L316.1 84.5 L316.64 84.3 L317.18 84.1 L317.71 83.91 L318.25 83.71 L318.79 83.51 L319.33 83.31 L319.87 83.12 L320.41 82.92 L320.94 82.72 L321.48 82.52 L322.02 82.32 L322.56 82.13 L323.1 81.93 L323.64 81.73 L324.17 81.53 L324.71 81.33 L325.25 81.13" stroke="#ffff00"/></g><path d="M417.66 0V212.3M426.61 0V212.3M435.55 0V212.3M444.5 0V212.3M462.38 0V212.3M471.33 0V212.3M480.27 0V212.3M489.22 0V212.3M507.1 0V212.3M516.05 0V212.3M524.99 0V212.3M533.94 0V212.3M551.82 0V212.3M560.77 0V212.3M569.71 0V212.3M578.66 0V212.3M596.54 0V212.3M605.49 0V212.3M614.43 0V212.3M623.38 0V212.3M641.26 0V212.3M650.21 0V212.3M659.15 0V212.3M668.1 0V212.3M408.7 186.84H677.6M408.7 172.52H677.6M408.7 158.2H677.6M408.7 129.56H677.6M408.7 115.24H677.6M408.7 100.92H677.6M408.7 72.28H677.6M408.7 57.96H677.6M408.7 43.64H677.6M408.7 15H677.6" stroke="#ececec" stroke-width="1" fill="none" stroke-dasharray="0.9 1.7"/><path d="M453.44 0V212.3M498.16 0V212.3M542.88 0V212.3M587.6 0V212.3M632.32 0V212.3M408.7 201.16H677.6M408.7 143.88H677.6M408.7 86.6H677.6M408.7 29.32H677.6" stroke="#f0f0f0" stroke-width="1" fill="none"/><path d="M409 0.5H677.5" stroke="#8a8a8a" stroke-width="1"/><path d="M409 212.4H677.5" stroke="#8c8c8c" stroke-width="1.1"/><path d="M409 0.5V212.4" stroke="#a0a0a0" stroke-width="1"/><path d="M677.5 0.5V212.4" stroke="#8a8a8a" stroke-width="1"/><path d="M408.72 212.4V209.1M408.72 0.5V3.8M453.44 212.4V209.1M453.44 0.5V3.8M498.16 212.4V209.1M498.16 0.5V3.8M542.88 212.4V209.1M542.88 0.5V3.8M587.6 212.4V209.1M587.6 0.5V3.8M632.32 212.4V209.1M632.32 0.5V3.8M677.04 212.4V209.1M677.04 0.5V3.8M408.6 201.16H411.9M677.5 201.16H674.2M408.6 143.88H411.9M677.5 143.88H674.2M408.6 86.6H411.9M677.5 86.6H674.2M408.6 29.32H411.9M677.5 29.32H674.2" stroke="#3a3a3a" stroke-width="0.85" fill="none"/><g clip-path="url(#cr)" fill="none" stroke-width="2.35" stroke-linejoin="round"><path d="M408.7 207.63 L409.74 207.54 L410.78 207.45 L411.82 207.36 L412.86 207.26 L413.89 207.16 L414.93 207.05 L415.97 206.93 L417.01 206.81 L418.05 206.68 L419.09 206.54 L420.13 206.39 L421.17 206.24 L422.21 206.08 L423.25 205.91 L424.28 205.73 L425.32 205.54 L426.36 205.35 L427.4 205.14 L428.44 204.91 L429.48 204.68 L430.52 204.43 L431.56 204.18 L432.6 203.9 L433.64 203.61 L434.67 203.31 L435.71 202.99 L436.75 202.65 L437.79 202.29 L438.83 201.92 L439.87 201.52 L440.91 201.1 L441.95 200.67 L442.99 200.2 L444.03 199.71 L445.06 199.2 L446.1 198.66 L447.14 198.09 L448.18 197.49 L449.22 196.86 L450.26 196.19 L451.3 195.5 L452.34 194.76 L453.38 193.99 L454.42 193.18 L455.45 192.33 L456.49 191.43 L457.53 190.49 L458.57 189.51 L459.61 188.48 L460.65 187.39 L461.69 186.26 L462.73 185.07 L463.77 183.83 L464.81 182.54 L465.84 181.18 L466.88 179.77 L467.92 178.29 L468.96 176.75 L470 175.15 L470.25 174.76 L470.5 174.36 L470.75 173.96 L471 173.55 L471.25 173.14 L471.5 172.72 L471.75 172.31 L472 171.88 L472.25 171.46 L472.5 171.03 L472.76 170.59 L473.01 170.16 L473.26 169.71 L473.51 169.27 L473.76 168.82 L474.01 168.37 L474.26 167.91 L474.51 167.45 L474.76 166.98 L475.01 166.52 L475.26 166.04 L475.51 165.57 L475.76 165.09 L476.01 164.6 L476.26 164.11 L476.51 163.62 L476.76 163.12 L477.01 162.62 L477.26 162.12 L477.51 161.61 L477.76 161.1 L478.02 160.58 L478.27 160.06 L478.52 159.54 L478.77 159.01 L479.02 158.48 L479.27 157.95 L479.52 157.41 L479.77 156.86 L480.02 156.32 L480.27 155.76 L480.52 155.21 L480.77 154.65 L481.02 154.09 L481.27 153.52 L481.52 152.95 L481.77 152.38 L482.02 151.8 L482.27 151.22 L482.52 150.63 L482.77 150.04 L483.03 149.45 L483.28 148.85 L483.53 148.25 L483.78 147.65 L484.03 147.04 L484.28 146.43 L484.53 145.82 L484.78 145.2 L485.03 144.58 L485.28 143.95 L485.53 143.32 L485.78 142.69 L486.03 142.05 L486.28 141.41 L486.53 140.77 L486.78 140.12 L487.03 139.47 L487.28 138.82 L487.53 138.16 L487.78 137.5 L488.03 136.84 L488.29 136.17 L488.54 135.5 L488.79 134.83 L489.04 134.15 L489.29 133.47 L489.54 132.79 L489.79 132.1 L490.04 131.41 L490.29 130.72 L490.54 130.02 L490.79 129.32 L491.04 128.62 L491.29 127.92 L491.54 127.21 L491.79 126.5 L492.04 125.78 L492.29 125.07 L492.54 124.35 L492.79 123.63 L493.04 122.9 L493.29 122.17 L493.55 121.44 L493.8 120.71 L494.05 119.97 L494.3 119.23 L494.55 118.49 L494.8 117.75 L495.05 117 L495.3 116.25 L495.55 115.5 L495.8 114.75 L496.05 113.99 L496.3 113.23 L496.55 112.47 L496.8 111.71 L497.05 110.94 L497.3 110.17 L497.55 109.4 L497.8 108.63 L498.05 107.86 L498.3 107.08 L498.55 106.3 L498.81 105.52 L499.06 104.74 L499.31 103.95 L499.56 103.17 L499.81 102.38 L500.06 101.59 L500.31 100.8 L500.56 100 L500.81 99.21 L501.06 98.41 L501.31 97.62 L501.56 96.82 L501.81 96.02 L502.06 95.22 L502.31 94.41 L502.56 93.61 L502.81 92.8 L503.06 92 L503.31 91.19 L503.56 90.38 L503.82 89.57 L504.07 88.77 L504.32 87.96 L504.57 87.15 L504.82 86.33 L505.07 85.52 L505.32 84.71 L505.57 83.9 L505.82 83.09 L506.07 82.28 L506.32 81.47 L506.57 80.65 L506.82 79.84 L507.07 79.03 L507.32 78.22 L507.57 77.41 L507.82 76.6 L508.07 75.79 L508.32 74.99 L508.57 74.18 L508.82 73.38 L509.08 72.57 L509.33 71.77 L509.58 70.97 L509.83 70.17 L510.08 69.37 L510.33 68.57 L510.58 67.78 L510.83 66.99 L511.08 66.2 L511.33 65.41 L511.58 64.63 L511.83 63.85 L512.08 63.07 L512.33 62.29 L512.58 61.52 L512.83 60.75 L513.08 59.98 L513.33 59.22 L513.58 58.46 L513.83 57.7 L514.08 56.95 L514.34 56.2 L514.59 55.46 L514.84 54.72 L515.09 53.99 L515.34 53.26 L515.59 52.53 L515.84 51.81 L516.09 51.1 L516.34 50.39 L516.59 49.68 L516.84 48.99 L517.09 48.29 L517.34 47.61 L517.59 46.93 L517.84 46.25 L518.09 45.59 L518.34 44.93 L518.59 44.27 L518.84 43.62 L519.09 42.98 L519.34 42.35 L519.6 41.73 L519.85 41.11 L520.1 40.5 L520.35 39.9 L520.6 39.3 L520.85 38.72 L521.1 38.14 L521.35 37.57 L521.6 37.01 L521.85 36.46 L522.1 35.92 L522.35 35.39 L522.6 34.86 L522.85 34.35 L523.1 33.84 L523.35 33.35 L523.6 32.86 L523.85 32.39 L524.1 31.92 L524.35 31.47 L524.61 31.02 L524.86 30.59 L525.11 30.17 L525.36 29.75 L525.61 29.35 L525.86 28.96 L526.11 28.58 L526.36 28.21 L526.61 27.86 L526.86 27.51 L527.11 27.18 L527.36 26.85 L527.61 26.54 L527.86 26.24 L528.11 25.96 L528.36 25.68 L528.61 25.42 L528.86 25.17 L529.11 24.93 L529.36 24.7 L529.61 24.49 L529.87 24.29 L530.12 24.1 L530.37 23.92 L530.62 23.76 L530.87 23.61 L531.12 23.47 L531.37 23.34 L531.62 23.23 L531.87 23.13 L532.12 23.04 L532.37 22.97 L532.62 22.91 L532.87 22.86 L533.12 22.82 L533.37 22.8 L533.62 22.79 L533.87 22.79 L534.12 22.81 L534.37 22.84 L534.62 22.88 L534.87 22.93 L535.13 23 L535.38 23.08 L535.63 23.17 L535.88 23.28 L536.13 23.4 L536.38 23.53 L536.63 23.67 L536.88 23.83 L537.13 24 L537.38 24.18 L537.63 24.37 L537.88 24.58 L538.13 24.8 L538.38 25.03 L538.63 25.27 L538.88 25.52 L539.13 25.79 L539.38 26.07 L539.63 26.36 L539.88 26.66 L540.13 26.98 L540.39 27.3 L540.64 27.64 L540.89 27.98 L541.14 28.34 L541.39 28.71 L541.64 29.1 L541.89 29.49 L542.14 29.89 L542.39 30.3 L542.64 30.73 L542.89 31.16 L543.14 31.61 L543.39 32.06 L543.64 32.53 L543.89 33 L544.14 33.49 L544.39 33.98 L544.64 34.48 L544.89 35 L545.14 35.52 L545.39 36.05 L545.65 36.59 L545.9 37.14 L546.15 37.7 L546.4 38.27 L546.65 38.84 L546.9 39.43 L547.15 40.02 L547.4 40.62 L547.65 41.23 L547.9 41.84 L548.15 42.46 L548.4 43.09 L548.65 43.73 L548.9 44.38 L549.15 45.03 L549.4 45.69 L549.65 46.35 L549.9 47.03 L550.15 47.71 L550.4 48.39 L550.66 49.08 L550.91 49.78 L551.16 50.48 L551.41 51.19 L551.66 51.91 L551.91 52.63 L552.16 53.36 L552.41 54.09 L552.66 54.82 L552.91 55.57 L553.16 56.31 L553.41 57.06 L553.66 57.82 L553.91 58.58 L554.16 59.35 L554.41 60.12 L554.66 60.89 L554.91 61.67 L555.16 62.45 L555.41 63.23 L555.66 64.02 L555.92 64.82 L556.17 65.61 L556.42 66.41 L556.67 67.22 L556.92 68.02 L557.17 68.83 L557.42 69.64 L557.67 70.46 L557.92 71.28 L558.17 72.1 L558.42 72.92 L558.67 73.75 L558.92 74.57 L559.17 75.4 L559.42 76.24 L559.67 77.07 L559.92 77.91 L560.17 78.75 L560.42 79.59 L560.67 80.43 L560.92 81.27 L561.18 82.11 L561.43 82.96 L561.68 83.81 L561.93 84.66 L562.18 85.5 L562.43 86.35 L562.68 87.21 L562.93 88.06 L563.18 88.91 L563.43 89.76 L563.68 90.62 L563.93 91.47 L564.18 92.33 L564.43 93.18 L564.68 94.03 L564.93 94.89 L565.18 95.74 L565.43 96.6 L565.68 97.45 L565.93 98.31 L566.18 99.16 L566.44 100.01 L566.69 100.86 L566.94 101.71 L567.19 102.56 L567.44 103.41 L567.69 104.26 L567.94 105.11 L568.19 105.95 L568.44 106.8 L568.69 107.64 L568.94 108.48 L569.19 109.32 L569.44 110.16 L569.69 111 L569.94 111.83 L570.19 112.67 L570.44 113.5 L570.69 114.33 L570.94 115.15 L571.19 115.98 L571.45 116.8 L571.7 117.62 L571.95 118.43 L572.2 119.25 L572.45 120.06 L572.7 120.87 L572.95 121.67 L573.2 122.47 L573.45 123.27 L573.7 124.07 L573.95 124.86 L574.2 125.65 L574.45 126.43 L574.7 127.22 L574.95 128 L575.2 128.77 L575.45 129.54 L575.7 130.31 L575.95 131.07 L576.2 131.83 L576.45 132.59 L576.71 133.34 L576.96 134.09 L577.21 134.83 L577.46 135.57 L577.71 136.31 L577.96 137.04 L578.21 137.77 L578.46 138.49 L578.71 139.21 L578.96 139.92 L579.21 140.63 L579.46 141.33 L579.71 142.03 L579.96 142.73 L580.21 143.42 L580.46 144.1 L580.71 144.79 L580.96 145.46 L581.21 146.13 L581.46 146.8 L581.71 147.46 L581.97 148.12 L582.22 148.77 L582.47 149.41 L582.72 150.06 L582.97 150.69 L583.22 151.32 L583.47 151.95 L583.72 152.57 L583.97 153.19 L584.22 153.8 L584.47 154.41 L584.72 155.01 L584.97 155.61 L585.22 156.2 L585.47 156.78 L585.72 157.36 L585.97 157.94 L586.22 158.51 L586.47 159.08 L586.72 159.64 L586.97 160.19 L587.23 160.74 L587.48 161.29 L587.73 161.83 L587.98 162.37 L588.23 162.9 L588.48 163.42 L588.73 163.94 L588.98 164.46 L589.23 164.97 L589.48 165.48 L589.73 165.98 L589.98 166.47 L590.23 166.97 L590.48 167.45 L590.73 167.93 L590.98 168.41 L591.23 168.88 L591.48 169.35 L591.73 169.81 L591.98 170.27 L592.24 170.72 L592.49 171.17 L592.74 171.62 L592.99 172.06 L593.24 172.49 L593.49 172.92 L593.74 173.35 L593.99 173.77 L594.24 174.19 L594.49 174.6 L594.74 175.01 L594.99 175.41 L595.24 175.81 L595.49 176.2 L595.74 176.6 L595.99 176.98 L596.24 177.36 L596.49 177.74 L596.74 178.12 L596.99 178.49 L597.24 178.85 L597.5 179.21 L597.75 179.57 L598 179.93 L598.25 180.28 L598.5 180.62 L598.75 180.97 L599 181.3 L599.25 181.64 L599.5 181.97 L599.75 182.3 L600 182.62 L601.32 184.26 L602.63 185.8 L603.95 187.26 L605.26 188.62 L606.58 189.9 L607.89 191.11 L609.21 192.24 L610.52 193.31 L611.84 194.3 L613.15 195.24 L614.47 196.12 L615.78 196.94 L617.1 197.72 L618.41 198.44 L619.73 199.12 L621.04 199.76 L622.36 200.36 L623.67 200.92 L624.99 201.44 L626.31 201.93 L627.62 202.39 L628.94 202.82 L630.25 203.23 L631.57 203.6 L632.88 203.96 L634.2 204.29 L635.51 204.6 L636.83 204.89 L638.14 205.17 L639.46 205.42 L640.77 205.66 L642.09 205.89 L643.4 206.1 L644.72 206.29 L646.03 206.48 L647.35 206.65 L648.66 206.81 L649.98 206.96 L651.29 207.1 L652.61 207.23 L653.93 207.36 L655.24 207.48 L656.56 207.58 L657.87 207.69 L659.19 207.78 L660.5 207.87 L661.82 207.95 L663.13 208.03 L664.45 208.11 L665.76 208.17 L667.08 208.24 L668.39 208.3 L669.71 208.36 L671.02 208.41 L672.34 208.46 L673.65 208.5 L674.97 208.55 L676.28 208.59 L677.6 208.63" stroke="#000000"/><path d="M408.7 207.25 L409.74 207.16 L410.78 207.06 L411.82 206.96 L412.86 206.85 L413.89 206.73 L414.93 206.61 L415.97 206.48 L417.01 206.34 L418.05 206.2 L419.09 206.05 L420.13 205.89 L421.17 205.72 L422.21 205.54 L423.25 205.35 L424.28 205.14 L425.32 204.93 L426.36 204.71 L427.4 204.47 L428.44 204.22 L429.48 203.96 L430.52 203.68 L431.56 203.38 L432.6 203.07 L433.64 202.74 L434.67 202.39 L435.71 202.03 L436.75 201.64 L437.79 201.23 L438.83 200.8 L439.87 200.35 L440.91 199.87 L441.95 199.36 L442.99 198.83 L444.03 198.27 L445.06 197.68 L446.1 197.05 L447.14 196.4 L448.18 195.71 L449.22 194.98 L450.26 194.21 L451.3 193.41 L452.34 192.56 L453.38 191.67 L454.42 190.73 L455.45 189.75 L456.49 188.72 L457.53 187.64 L458.57 186.5 L459.61 185.31 L460.65 184.06 L461.69 182.76 L462.73 181.39 L463.77 179.97 L464.81 178.47 L465.84 176.91 L466.88 175.29 L467.92 173.59 L468.96 171.82 L470 169.98 L470.25 169.53 L470.5 169.07 L470.75 168.61 L471 168.14 L471.25 167.67 L471.5 167.19 L471.75 166.71 L472 166.22 L472.25 165.74 L472.5 165.24 L472.76 164.74 L473.01 164.24 L473.26 163.73 L473.51 163.22 L473.76 162.71 L474.01 162.18 L474.26 161.66 L474.51 161.13 L474.76 160.6 L475.01 160.06 L475.26 159.51 L475.51 158.97 L475.76 158.41 L476.01 157.86 L476.26 157.3 L476.51 156.73 L476.76 156.16 L477.01 155.58 L477.26 155 L477.51 154.42 L477.76 153.83 L478.02 153.24 L478.27 152.64 L478.52 152.04 L478.77 151.43 L479.02 150.82 L479.27 150.21 L479.52 149.59 L479.77 148.96 L480.02 148.33 L480.27 147.7 L480.52 147.06 L480.77 146.42 L481.02 145.77 L481.27 145.12 L481.52 144.46 L481.77 143.8 L482.02 143.14 L482.27 142.47 L482.52 141.8 L482.77 141.12 L483.03 140.44 L483.28 139.75 L483.53 139.06 L483.78 138.37 L484.03 137.67 L484.28 136.97 L484.53 136.26 L484.78 135.55 L485.03 134.84 L485.28 134.12 L485.53 133.4 L485.78 132.67 L486.03 131.94 L486.28 131.21 L486.53 130.47 L486.78 129.73 L487.03 128.98 L487.28 128.23 L487.53 127.48 L487.78 126.72 L488.03 125.96 L488.29 125.2 L488.54 124.43 L488.79 123.66 L489.04 122.88 L489.29 122.11 L489.54 121.33 L489.79 120.54 L490.04 119.75 L490.29 118.96 L490.54 118.17 L490.79 117.37 L491.04 116.57 L491.29 115.77 L491.54 114.96 L491.79 114.15 L492.04 113.34 L492.29 112.53 L492.54 111.71 L492.79 110.89 L493.04 110.07 L493.29 109.25 L493.55 108.42 L493.8 107.59 L494.05 106.76 L494.3 105.92 L494.55 105.09 L494.8 104.25 L495.05 103.41 L495.3 102.56 L495.55 101.72 L495.8 100.87 L496.05 100.02 L496.3 99.18 L496.55 98.32 L496.8 97.47 L497.05 96.62 L497.3 95.76 L497.55 94.9 L497.8 94.04 L498.05 93.18 L498.3 92.32 L498.55 91.46 L498.81 90.6 L499.06 89.73 L499.31 88.87 L499.56 88 L499.81 87.14 L500.06 86.27 L500.31 85.4 L500.56 84.54 L500.81 83.67 L501.06 82.8 L501.31 81.93 L501.56 81.06 L501.81 80.2 L502.06 79.33 L502.31 78.46 L502.56 77.59 L502.81 76.73 L503.06 75.86 L503.31 74.99 L503.56 74.13 L503.82 73.26 L504.07 72.4 L504.32 71.54 L504.57 70.68 L504.82 69.82 L505.07 68.96 L505.32 68.1 L505.57 67.25 L505.82 66.39 L506.07 65.54 L506.32 64.69 L506.57 63.85 L506.82 63 L507.07 62.16 L507.32 61.32 L507.57 60.48 L507.82 59.64 L508.07 58.81 L508.32 57.98 L508.57 57.15 L508.82 56.33 L509.08 55.51 L509.33 54.69 L509.58 53.88 L509.83 53.07 L510.08 52.26 L510.33 51.46 L510.58 50.66 L510.83 49.86 L511.08 49.07 L511.33 48.29 L511.58 47.51 L511.83 46.73 L512.08 45.96 L512.33 45.2 L512.58 44.43 L512.83 43.68 L513.08 42.93 L513.33 42.18 L513.58 41.45 L513.83 40.71 L514.08 39.99 L514.34 39.27 L514.59 38.55 L514.84 37.85 L515.09 37.15 L515.34 36.45 L515.59 35.77 L515.84 35.09 L516.09 34.42 L516.34 33.75 L516.59 33.09 L516.84 32.45 L517.09 31.81 L517.34 31.17 L517.59 30.55 L517.84 29.93 L518.09 29.32 L518.34 28.73 L518.59 28.14 L518.84 27.56 L519.09 26.99 L519.34 26.42 L519.6 25.87 L519.85 25.33 L520.1 24.8 L520.35 24.27 L520.6 23.76 L520.85 23.26 L521.1 22.77 L521.35 22.29 L521.6 21.82 L521.85 21.36 L522.1 20.91 L522.35 20.48 L522.6 20.05 L522.85 19.64 L523.1 19.24 L523.35 18.85 L523.6 18.47 L523.85 18.1 L524.1 17.75 L524.35 17.41 L524.61 17.08 L524.86 16.76 L525.11 16.46 L525.36 16.17 L525.61 15.89 L525.86 15.62 L526.11 15.37 L526.36 15.13 L526.61 14.91 L526.86 14.7 L527.11 14.5 L527.36 14.32 L527.61 14.15 L527.86 13.99 L528.11 13.85 L528.36 13.72 L528.61 13.6 L528.86 13.5 L529.11 13.42 L529.36 13.34 L529.61 13.29 L529.87 13.24 L530.12 13.22 L530.37 13.2 L530.62 13.2 L530.87 13.22 L531.12 13.25 L531.37 13.29 L531.62 13.35 L531.87 13.42 L532.12 13.51 L532.37 13.61 L532.62 13.73 L532.87 13.86 L533.12 14.01 L533.37 14.17 L533.62 14.35 L533.87 14.54 L534.12 14.74 L534.37 14.96 L534.62 15.2 L534.87 15.45 L535.13 15.71 L535.38 15.99 L535.63 16.28 L535.88 16.59 L536.13 16.91 L536.38 17.24 L536.63 17.59 L536.88 17.96 L537.13 18.33 L537.38 18.72 L537.63 19.13 L537.88 19.55 L538.13 19.98 L538.38 20.43 L538.63 20.89 L538.88 21.36 L539.13 21.85 L539.38 22.34 L539.63 22.86 L539.88 23.38 L540.13 23.92 L540.39 24.47 L540.64 25.03 L540.89 25.61 L541.14 26.2 L541.39 26.79 L541.64 27.41 L541.89 28.03 L542.14 28.66 L542.39 29.31 L542.64 29.97 L542.89 30.64 L543.14 31.32 L543.39 32.01 L543.64 32.71 L543.89 33.42 L544.14 34.14 L544.39 34.87 L544.64 35.61 L544.89 36.37 L545.14 37.13 L545.39 37.9 L545.65 38.68 L545.9 39.47 L546.15 40.26 L546.4 41.07 L546.65 41.89 L546.9 42.71 L547.15 43.54 L547.4 44.38 L547.65 45.23 L547.9 46.08 L548.15 46.94 L548.4 47.81 L548.65 48.69 L548.9 49.57 L549.15 50.46 L549.4 51.35 L549.65 52.26 L549.9 53.16 L550.15 54.08 L550.4 54.99 L550.66 55.92 L550.91 56.85 L551.16 57.78 L551.41 58.72 L551.66 59.66 L551.91 60.61 L552.16 61.56 L552.41 62.52 L552.66 63.48 L552.91 64.44 L553.16 65.41 L553.41 66.38 L553.66 67.35 L553.91 68.33 L554.16 69.31 L554.41 70.29 L554.66 71.28 L554.91 72.26 L555.16 73.25 L555.41 74.24 L555.66 75.23 L555.92 76.22 L556.17 77.22 L556.42 78.21 L556.67 79.21 L556.92 80.21 L557.17 81.2 L557.42 82.2 L557.67 83.2 L557.92 84.2 L558.17 85.2 L558.42 86.19 L558.67 87.19 L558.92 88.19 L559.17 89.19 L559.42 90.18 L559.67 91.18 L559.92 92.17 L560.17 93.17 L560.42 94.16 L560.67 95.15 L560.92 96.14 L561.18 97.12 L561.43 98.11 L561.68 99.09 L561.93 100.07 L562.18 101.05 L562.43 102.03 L562.68 103 L562.93 103.98 L563.18 104.95 L563.43 105.91 L563.68 106.88 L563.93 107.84 L564.18 108.79 L564.43 109.75 L564.68 110.7 L564.93 111.65 L565.18 112.59 L565.43 113.53 L565.68 114.47 L565.93 115.4 L566.18 116.33 L566.44 117.26 L566.69 118.18 L566.94 119.1 L567.19 120.01 L567.44 120.92 L567.69 121.83 L567.94 122.73 L568.19 123.62 L568.44 124.52 L568.69 125.4 L568.94 126.29 L569.19 127.16 L569.44 128.04 L569.69 128.91 L569.94 129.77 L570.19 130.63 L570.44 131.48 L570.69 132.33 L570.94 133.18 L571.19 134.02 L571.45 134.85 L571.7 135.68 L571.95 136.5 L572.2 137.32 L572.45 138.13 L572.7 138.94 L572.95 139.74 L573.2 140.54 L573.45 141.33 L573.7 142.12 L573.95 142.9 L574.2 143.67 L574.45 144.44 L574.7 145.2 L574.95 145.96 L575.2 146.71 L575.45 147.46 L575.7 148.2 L575.95 148.94 L576.2 149.67 L576.45 150.39 L576.71 151.11 L576.96 151.82 L577.21 152.53 L577.46 153.23 L577.71 153.93 L577.96 154.62 L578.21 155.3 L578.46 155.98 L578.71 156.65 L578.96 157.32 L579.21 157.98 L579.46 158.63 L579.71 159.28 L579.96 159.92 L580.21 160.56 L580.46 161.19 L580.71 161.82 L580.96 162.44 L581.21 163.05 L581.46 163.66 L581.71 164.26 L581.97 164.86 L582.22 165.45 L582.47 166.04 L582.72 166.61 L582.97 167.19 L583.22 167.76 L583.47 168.32 L583.72 168.87 L583.97 169.42 L584.22 169.97 L584.47 170.51 L584.72 171.04 L584.97 171.57 L585.22 172.09 L585.47 172.61 L585.72 173.12 L585.97 173.62 L586.22 174.12 L586.47 174.62 L586.72 175.11 L586.97 175.59 L587.23 176.07 L587.48 176.54 L587.73 177 L587.98 177.47 L588.23 177.92 L588.48 178.37 L588.73 178.82 L588.98 179.26 L589.23 179.69 L589.48 180.12 L589.73 180.54 L589.98 180.96 L590.23 181.38 L590.48 181.79 L590.73 182.19 L590.98 182.59 L591.23 182.98 L591.48 183.37 L591.73 183.75 L591.98 184.13 L592.24 184.5 L592.49 184.87 L592.74 185.24 L592.99 185.59 L593.24 185.95 L593.49 186.3 L593.74 186.64 L593.99 186.98 L594.24 187.32 L594.49 187.65 L594.74 187.97 L594.99 188.3 L595.24 188.61 L595.49 188.92 L595.74 189.23 L595.99 189.54 L596.24 189.84 L596.49 190.13 L596.74 190.42 L596.99 190.71 L597.24 190.99 L597.5 191.27 L597.75 191.54 L598 191.82 L598.25 192.08 L598.5 192.34 L598.75 192.6 L599 192.86 L599.25 193.11 L599.5 193.35 L599.75 193.6 L600 193.84 L601.32 195.04 L602.63 196.14 L603.95 197.15 L605.26 198.08 L606.58 198.94 L607.89 199.72 L609.21 200.43 L610.52 201.08 L611.84 201.68 L613.15 202.23 L614.47 202.73 L615.78 203.18 L617.1 203.6 L618.41 203.98 L619.73 204.33 L621.04 204.65 L622.36 204.95 L623.67 205.22 L624.99 205.46 L626.31 205.69 L627.62 205.9 L628.94 206.1 L630.25 206.28 L631.57 206.44 L632.88 206.6 L634.2 206.74 L635.51 206.87 L636.83 207 L638.14 207.11 L639.46 207.22 L640.77 207.32 L642.09 207.41 L643.4 207.5 L644.72 207.58 L646.03 207.66 L647.35 207.73 L648.66 207.8 L649.98 207.86 L651.29 207.92 L652.61 207.98 L653.93 208.03 L655.24 208.08 L656.56 208.13 L657.87 208.17 L659.19 208.21 L660.5 208.25 L661.82 208.29 L663.13 208.32 L664.45 208.35 L665.76 208.38 L667.08 208.41 L668.39 208.44 L669.71 208.46 L671.02 208.49 L672.34 208.51 L673.65 208.53 L674.97 208.55 L676.28 208.57 L677.6 208.59" stroke="#00ff00"/><path d="M408.7 207.09 L409.74 206.98 L410.78 206.87 L411.82 206.75 L412.86 206.62 L413.89 206.48 L414.93 206.34 L415.97 206.19 L417.01 206.03 L418.05 205.86 L419.09 205.68 L420.13 205.49 L421.17 205.29 L422.21 205.08 L423.25 204.86 L424.28 204.62 L425.32 204.37 L426.36 204.11 L427.4 203.83 L428.44 203.54 L429.48 203.23 L430.52 202.91 L431.56 202.56 L432.6 202.2 L433.64 201.82 L434.67 201.41 L435.71 200.99 L436.75 200.54 L437.79 200.07 L438.83 199.57 L439.87 199.04 L440.91 198.49 L441.95 197.91 L442.99 197.29 L444.03 196.65 L445.06 195.97 L446.1 195.25 L447.14 194.5 L448.18 193.7 L449.22 192.87 L450.26 191.99 L451.3 191.07 L452.34 190.1 L453.38 189.09 L454.42 188.02 L455.45 186.9 L456.49 185.73 L457.53 184.5 L458.57 183.21 L459.61 181.86 L460.65 180.45 L461.69 178.97 L462.73 177.42 L463.77 175.81 L464.81 174.12 L465.84 172.36 L466.88 170.53 L467.92 168.61 L468.96 166.62 L470 164.55 L470.25 164.04 L470.5 163.52 L470.75 163 L471 162.47 L471.25 161.94 L471.5 161.41 L471.75 160.87 L472 160.32 L472.25 159.77 L472.5 159.21 L472.76 158.65 L473.01 158.09 L473.26 157.52 L473.51 156.94 L473.76 156.36 L474.01 155.78 L474.26 155.19 L474.51 154.59 L474.76 153.99 L475.01 153.38 L475.26 152.77 L475.51 152.16 L475.76 151.54 L476.01 150.91 L476.26 150.28 L476.51 149.64 L476.76 149 L477.01 148.36 L477.26 147.71 L477.51 147.05 L477.76 146.39 L478.02 145.72 L478.27 145.05 L478.52 144.37 L478.77 143.69 L479.02 143.01 L479.27 142.31 L479.52 141.62 L479.77 140.91 L480.02 140.21 L480.27 139.5 L480.52 138.78 L480.77 138.06 L481.02 137.33 L481.27 136.6 L481.52 135.86 L481.77 135.12 L482.02 134.38 L482.27 133.63 L482.52 132.87 L482.77 132.11 L483.03 131.34 L483.28 130.57 L483.53 129.8 L483.78 129.02 L484.03 128.24 L484.28 127.45 L484.53 126.65 L484.78 125.86 L485.03 125.05 L485.28 124.25 L485.53 123.44 L485.78 122.62 L486.03 121.8 L486.28 120.98 L486.53 120.15 L486.78 119.32 L487.03 118.48 L487.28 117.64 L487.53 116.8 L487.78 115.95 L488.03 115.1 L488.29 114.24 L488.54 113.38 L488.79 112.52 L489.04 111.65 L489.29 110.78 L489.54 109.9 L489.79 109.03 L490.04 108.14 L490.29 107.26 L490.54 106.37 L490.79 105.48 L491.04 104.59 L491.29 103.69 L491.54 102.79 L491.79 101.89 L492.04 100.98 L492.29 100.07 L492.54 99.16 L492.79 98.25 L493.04 97.33 L493.29 96.41 L493.55 95.49 L493.8 94.57 L494.05 93.64 L494.3 92.71 L494.55 91.78 L494.8 90.85 L495.05 89.92 L495.3 88.99 L495.55 88.05 L495.8 87.11 L496.05 86.17 L496.3 85.23 L496.55 84.29 L496.8 83.35 L497.05 82.4 L497.3 81.46 L497.55 80.52 L497.8 79.57 L498.05 78.62 L498.3 77.68 L498.55 76.73 L498.81 75.78 L499.06 74.84 L499.31 73.89 L499.56 72.94 L499.81 71.99 L500.06 71.05 L500.31 70.1 L500.56 69.16 L500.81 68.21 L501.06 67.27 L501.31 66.33 L501.56 65.39 L501.81 64.45 L502.06 63.51 L502.31 62.57 L502.56 61.63 L502.81 60.7 L503.06 59.77 L503.31 58.84 L503.56 57.91 L503.82 56.98 L504.07 56.06 L504.32 55.14 L504.57 54.22 L504.82 53.3 L505.07 52.39 L505.32 51.48 L505.57 50.58 L505.82 49.67 L506.07 48.77 L506.32 47.88 L506.57 46.99 L506.82 46.1 L507.07 45.21 L507.32 44.33 L507.57 43.46 L507.82 42.59 L508.07 41.72 L508.32 40.86 L508.57 40 L508.82 39.15 L509.08 38.3 L509.33 37.46 L509.58 36.63 L509.83 35.8 L510.08 34.97 L510.33 34.15 L510.58 33.34 L510.83 32.53 L511.08 31.74 L511.33 30.94 L511.58 30.16 L511.83 29.38 L512.08 28.6 L512.33 27.84 L512.58 27.08 L512.83 26.33 L513.08 25.59 L513.33 24.85 L513.58 24.12 L513.83 23.41 L514.08 22.69 L514.34 21.99 L514.59 21.3 L514.84 20.61 L515.09 19.94 L515.34 19.27 L515.59 18.61 L515.84 17.97 L516.09 17.33 L516.34 16.7 L516.59 16.08 L516.84 15.47 L517.09 14.87 L517.34 14.28 L517.59 13.71 L517.84 13.14 L518.09 12.58 L518.34 12.04 L518.59 11.51 L518.84 10.98 L519.09 10.47 L519.34 9.98 L519.6 9.49 L519.85 9.01 L520.1 8.55 L520.35 8.1 L520.6 7.66 L520.85 7.24 L521.1 6.83 L521.35 6.43 L521.6 6.04 L521.85 5.67 L522.1 5.31 L522.35 4.97 L522.6 4.64 L522.85 4.32 L523.1 4.02 L523.35 3.73 L523.6 3.45 L523.85 3.19 L524.1 2.95 L524.35 2.72 L524.61 2.5 L524.86 2.3 L525.11 2.11 L525.36 1.94 L525.61 1.79 L525.86 1.65 L526.11 1.53 L526.36 1.42 L526.61 1.33 L526.86 1.25 L527.11 1.19 L527.36 1.15 L527.61 1.12 L527.86 1.11 L528.11 1.11 L528.36 1.14 L528.61 1.18 L528.86 1.23 L529.11 1.3 L529.36 1.39 L529.61 1.5 L529.87 1.62 L530.12 1.76 L530.37 1.91 L530.62 2.09 L530.87 2.28 L531.12 2.49 L531.37 2.71 L531.62 2.95 L531.87 3.21 L532.12 3.49 L532.37 3.78 L532.62 4.09 L532.87 4.42 L533.12 4.76 L533.37 5.12 L533.62 5.5 L533.87 5.89 L534.12 6.31 L534.37 6.74 L534.62 7.18 L534.87 7.64 L535.13 8.12 L535.38 8.62 L535.63 9.13 L535.88 9.66 L536.13 10.2 L536.38 10.76 L536.63 11.34 L536.88 11.93 L537.13 12.54 L537.38 13.16 L537.63 13.8 L537.88 14.46 L538.13 15.13 L538.38 15.81 L538.63 16.51 L538.88 17.23 L539.13 17.96 L539.38 18.7 L539.63 19.46 L539.88 20.23 L540.13 21.02 L540.39 21.82 L540.64 22.63 L540.89 23.46 L541.14 24.29 L541.39 25.15 L541.64 26.01 L541.89 26.89 L542.14 27.78 L542.39 28.68 L542.64 29.6 L542.89 30.52 L543.14 31.46 L543.39 32.4 L543.64 33.36 L543.89 34.33 L544.14 35.31 L544.39 36.3 L544.64 37.3 L544.89 38.31 L545.14 39.32 L545.39 40.35 L545.65 41.38 L545.9 42.43 L546.15 43.48 L546.4 44.54 L546.65 45.61 L546.9 46.68 L547.15 47.77 L547.4 48.85 L547.65 49.95 L547.9 51.05 L548.15 52.16 L548.4 53.28 L548.65 54.39 L548.9 55.52 L549.15 56.65 L549.4 57.78 L549.65 58.92 L549.9 60.07 L550.15 61.21 L550.4 62.37 L550.66 63.52 L550.91 64.68 L551.16 65.84 L551.41 67 L551.66 68.17 L551.91 69.34 L552.16 70.51 L552.41 71.68 L552.66 72.85 L552.91 74.02 L553.16 75.2 L553.41 76.38 L553.66 77.55 L553.91 78.73 L554.16 79.91 L554.41 81.08 L554.66 82.26 L554.91 83.44 L555.16 84.61 L555.41 85.78 L555.66 86.96 L555.92 88.13 L556.17 89.3 L556.42 90.47 L556.67 91.63 L556.92 92.8 L557.17 93.96 L557.42 95.12 L557.67 96.27 L557.92 97.42 L558.17 98.57 L558.42 99.72 L558.67 100.87 L558.92 102.01 L559.17 103.14 L559.42 104.27 L559.67 105.4 L559.92 106.53 L560.17 107.65 L560.42 108.76 L560.67 109.87 L560.92 110.98 L561.18 112.08 L561.43 113.18 L561.68 114.27 L561.93 115.35 L562.18 116.43 L562.43 117.51 L562.68 118.58 L562.93 119.65 L563.18 120.7 L563.43 121.76 L563.68 122.8 L563.93 123.85 L564.18 124.88 L564.43 125.91 L564.68 126.93 L564.93 127.95 L565.18 128.96 L565.43 129.96 L565.68 130.96 L565.93 131.95 L566.18 132.94 L566.44 133.92 L566.69 134.89 L566.94 135.85 L567.19 136.81 L567.44 137.76 L567.69 138.71 L567.94 139.64 L568.19 140.57 L568.44 141.5 L568.69 142.41 L568.94 143.32 L569.19 144.22 L569.44 145.12 L569.69 146.01 L569.94 146.89 L570.19 147.76 L570.44 148.63 L570.69 149.49 L570.94 150.34 L571.19 151.19 L571.45 152.02 L571.7 152.85 L571.95 153.68 L572.2 154.49 L572.45 155.3 L572.7 156.11 L572.95 156.9 L573.2 157.69 L573.45 158.47 L573.7 159.24 L573.95 160.01 L574.2 160.77 L574.45 161.52 L574.7 162.26 L574.95 163 L575.2 163.73 L575.45 164.45 L575.7 165.17 L575.95 165.87 L576.2 166.58 L576.45 167.27 L576.71 167.96 L576.96 168.64 L577.21 169.31 L577.46 169.98 L577.71 170.63 L577.96 171.29 L578.21 171.93 L578.46 172.57 L578.71 173.2 L578.96 173.83 L579.21 174.44 L579.46 175.05 L579.71 175.66 L579.96 176.25 L580.21 176.84 L580.46 177.43 L580.71 178.01 L580.96 178.58 L581.21 179.14 L581.46 179.7 L581.71 180.25 L581.97 180.79 L582.22 181.33 L582.47 181.86 L582.72 182.38 L582.97 182.9 L583.22 183.41 L583.47 183.92 L583.72 184.41 L583.97 184.91 L584.22 185.39 L584.47 185.87 L584.72 186.35 L584.97 186.81 L585.22 187.28 L585.47 187.73 L585.72 188.18 L585.97 188.62 L586.22 189.06 L586.47 189.49 L586.72 189.92 L586.97 190.33 L587.23 190.75 L587.48 191.16 L587.73 191.56 L587.98 191.95 L588.23 192.34 L588.48 192.73 L588.73 193.11 L588.98 193.48 L589.23 193.85 L589.48 194.21 L589.73 194.57 L589.98 194.92 L590.23 195.26 L590.48 195.61 L590.73 195.94 L590.98 196.27 L591.23 196.59 L591.48 196.91 L591.73 197.23 L591.98 197.54 L592.24 197.84 L592.49 198.14 L592.74 198.43 L592.99 198.72 L593.24 199.01 L593.49 199.29 L593.74 199.56 L593.99 199.83 L594.24 200.1 L594.49 200.36 L594.74 200.61 L594.99 200.86 L595.24 201.11 L595.49 201.35 L595.74 201.59 L595.99 201.82 L596.24 202.05 L596.49 202.27 L596.74 202.49 L596.99 202.71 L597.24 202.92 L597.5 203.13 L597.75 203.33 L598 203.53 L598.25 203.72 L598.5 203.91 L598.75 204.1 L599 204.28 L599.25 204.46 L599.5 204.64 L599.75 204.81 L600 204.98 L601.32 205.8 L602.63 206.53 L603.95 207.17 L605.26 207.73 L606.58 208.22 L607.89 208.63 L609.21 208.99 L610.52 209.29 L611.84 209.53 L613.15 209.74 L614.47 209.9 L615.78 210.03 L617.1 210.13 L618.41 210.2 L619.73 210.25 L621.04 210.27 L622.36 210.29 L623.67 210.28 L624.99 210.27 L626.31 210.24 L627.62 210.21 L628.94 210.18 L630.25 210.13 L631.57 210.09 L632.88 210.04 L634.2 209.99 L635.51 209.94 L636.83 209.89 L638.14 209.84 L639.46 209.79 L640.77 209.75 L642.09 209.7 L643.4 209.66 L644.72 209.62 L646.03 209.58 L647.35 209.54 L648.66 209.5 L649.98 209.47 L651.29 209.43 L652.61 209.4 L653.93 209.37 L655.24 209.35 L656.56 209.32 L657.87 209.3 L659.19 209.28 L660.5 209.26 L661.82 209.24 L663.13 209.22 L664.45 209.2 L665.76 209.19 L667.08 209.17 L668.39 209.16 L669.71 209.15 L671.02 209.14 L672.34 209.13 L673.65 209.12 L674.97 209.11 L676.28 209.1 L677.6 209.09" stroke="#ff0000"/></g><g font-family="Liberation Sans" font-size="14.6" fill="#1a1a1a" stroke="#1a1a1a" stroke-width="0.3"><text x="51.68" y="216.09" text-anchor="end">0.28</text><text x="51.68" y="177.84" text-anchor="end">0.3</text><text x="51.68" y="139.59" text-anchor="end">0.32</text><text x="51.68" y="101.34" text-anchor="end">0.34</text><text x="51.68" y="63.09" text-anchor="end">0.36</text><text x="51.68" y="24.84" text-anchor="end">0.38</text><text x="56.68" y="233.2" text-anchor="middle">0</text><text x="110.39" y="233.2" text-anchor="middle">2</text><text x="164.11" y="233.2" text-anchor="middle">4</text><text x="217.82" y="233.2" text-anchor="middle">6</text><text x="271.54" y="233.2" text-anchor="middle">8</text><text x="325.25" y="233.2" text-anchor="middle">10</text><text x="403.4" y="206.56" text-anchor="end">-0.4</text><text x="403.4" y="149.28" text-anchor="end">-0.2</text><text x="403.4" y="92" text-anchor="end">0</text><text x="403.4" y="34.72" text-anchor="end">0.2</text><text x="408.72" y="233.2" text-anchor="middle">-15</text><text x="453.44" y="233.2" text-anchor="middle">-10</text><text x="498.16" y="233.2" text-anchor="middle">-5</text><text x="542.88" y="233.2" text-anchor="middle">0</text><text x="587.6" y="233.2" text-anchor="middle">5</text><text x="632.32" y="233.2" text-anchor="middle">10</text><text x="677.04" y="233.2" text-anchor="middle">15</text></g><rect x="65.05" y="7.85" width="71.8" height="74" fill="#fff" stroke="#808080" stroke-width="2.1"/><path d="M67 18.4H92" stroke="#ff0000" stroke-width="2.5"/><path d="M67 36.3H92" stroke="#000000" stroke-width="2.5"/><path d="M67 54.3H92" stroke="#00ff00" stroke-width="2.5"/><path d="M67 72.1H92" stroke="#ffff00" stroke-width="2.5"/><text x="94.0" y="21.9" font-family="Liberation Serif" fill="#000" font-size="15.4" textLength="37" lengthAdjust="spacingAndGlyphs">Exact</text><text x="94.0" y="39.9" font-family="Liberation Serif" fill="#000" font-size="15.4" font-style="italic">&#963;</text><path d="M107.8 34.6H118M107.8 37.7H118" stroke="#1a1a1a" stroke-width="0.8"/><text x="123.2" y="39.9" font-family="Liberation Serif" fill="#000" font-size="15.4">.9</text><text x="94.0" y="57.9" font-family="Liberation Serif" fill="#000" font-size="15.4" font-style="italic">&#963;</text><path d="M107.8 52.6H118M107.8 55.7H118" stroke="#1a1a1a" stroke-width="0.8"/><text x="123.2" y="57.9" font-family="Liberation Serif" fill="#000" font-size="15.4">.8</text><text x="94.0" y="75.9" font-family="Liberation Serif" fill="#000" font-size="15.4" font-style="italic">&#963;</text><path d="M107.8 70.6H118M107.8 73.7H118" stroke="#1a1a1a" stroke-width="0.8"/><text x="123.2" y="75.9" font-family="Liberation Serif" fill="#000" font-size="15.4">.6</text><rect x="607" y="7.4" width="63.7" height="56.1" fill="#fff" stroke="#808080" stroke-width="2.1"/><path d="M609.2 17.3H633.9" stroke="#000000" stroke-width="1.9"/><path d="M609.2 35.4H633.9" stroke="#00ff00" stroke-width="1.9"/><path d="M609.2 53.4H633.9" stroke="#ff0000" stroke-width="1.9"/><text x="636.2" y="21.9" font-family="Liberation Serif" fill="#000" font-size="15.4">t</text><path d="M642.1 16.3H652.7M642.1 19.1H652.7" stroke="#1a1a1a" stroke-width="0.8"/><text x="652.9" y="21.9" font-family="Liberation Serif" fill="#000" font-size="15.4">5</text><text x="636.2" y="39.9" font-family="Liberation Serif" fill="#000" font-size="15.4">t</text><path d="M642.1 34.3H652.7M642.1 37.1H652.7" stroke="#1a1a1a" stroke-width="0.8"/><text x="652.9" y="39.9" font-family="Liberation Serif" fill="#000" font-size="15.4">8</text><text x="636.2" y="57.9" font-family="Liberation Serif" fill="#000" font-size="15.4">t</text><path d="M642.1 52.3H652.7M642.1 55.1H652.7" stroke="#1a1a1a" stroke-width="0.8"/><text x="652.9" y="57.9" font-family="Liberation Serif" fill="#000" font-size="15.4">11</text><rect x="218.2" y="150.1" width="45.1" height="22.3" fill="#fff" stroke="#a6a6a6" stroke-width="2"/><text x="221.5" y="165.5" font-family="Liberation Serif" fill="#000" font-size="15.4" font-style="italic">&#977;</text><path d="M236.2 160.2H247M236.2 163.3H247" stroke="#1a1a1a" stroke-width="0.8"/><text x="251.6" y="165.5" font-family="Liberation Serif" fill="#000" font-size="15.4">1</text><rect x="499.3" y="144.2" width="43.2" height="21" fill="#fff" stroke="#a6a6a6" stroke-width="2"/><text x="503" y="158.5" font-family="Liberation Serif" fill="#000" font-size="15.4" font-style="italic">&#963;</text><path d="M515.8 153.2H526M515.8 156.3H526" stroke="#1a1a1a" stroke-width="0.8"/><text x="529.8" y="158.5" font-family="Liberation Serif" fill="#000" font-size="15.4">1</text><rect x="499.3" y="169.3" width="43.2" height="20.7" fill="#fff" stroke="#a6a6a6" stroke-width="2"/><text x="503" y="183.1" font-family="Liberation Serif" fill="#000" font-size="15.4" font-style="italic">&#963;</text><path d="M515.8 177.8H526M515.8 180.9H526" stroke="#1a1a1a" stroke-width="0.8"/><text x="529.8" y="183.1" font-family="Liberation Serif" fill="#000" font-size="15.4">1</text><text x="188.9" y="256.6" font-family="Liberation Serif" fill="#222" font-size="18" text-anchor="middle">t</text><text transform="translate(544.4 252.0) scale(1.12 1)" font-family="Liberation Serif" fill="#222" font-size="16" text-anchor="middle">x</text><text transform="translate(12.3 101.6) rotate(-90)" font-family="Liberation Serif" fill="#000" font-size="16.8" text-anchor="middle" textLength="44.5" lengthAdjust="spacing"><tspan font-style="italic">&#968;</tspan>(<tspan font-style="italic">x</tspan>, <tspan font-style="italic">t</tspan>)</text><text transform="translate(370.6 107.2) rotate(-90)" font-family="Liberation Serif" fill="#000" font-size="16.8" text-anchor="middle" textLength="45" lengthAdjust="spacing"><tspan font-style="italic">&#968;</tspan>(<tspan font-style="italic">x</tspan>, <tspan font-style="italic">t</tspan>)</text></svg></body></html>
